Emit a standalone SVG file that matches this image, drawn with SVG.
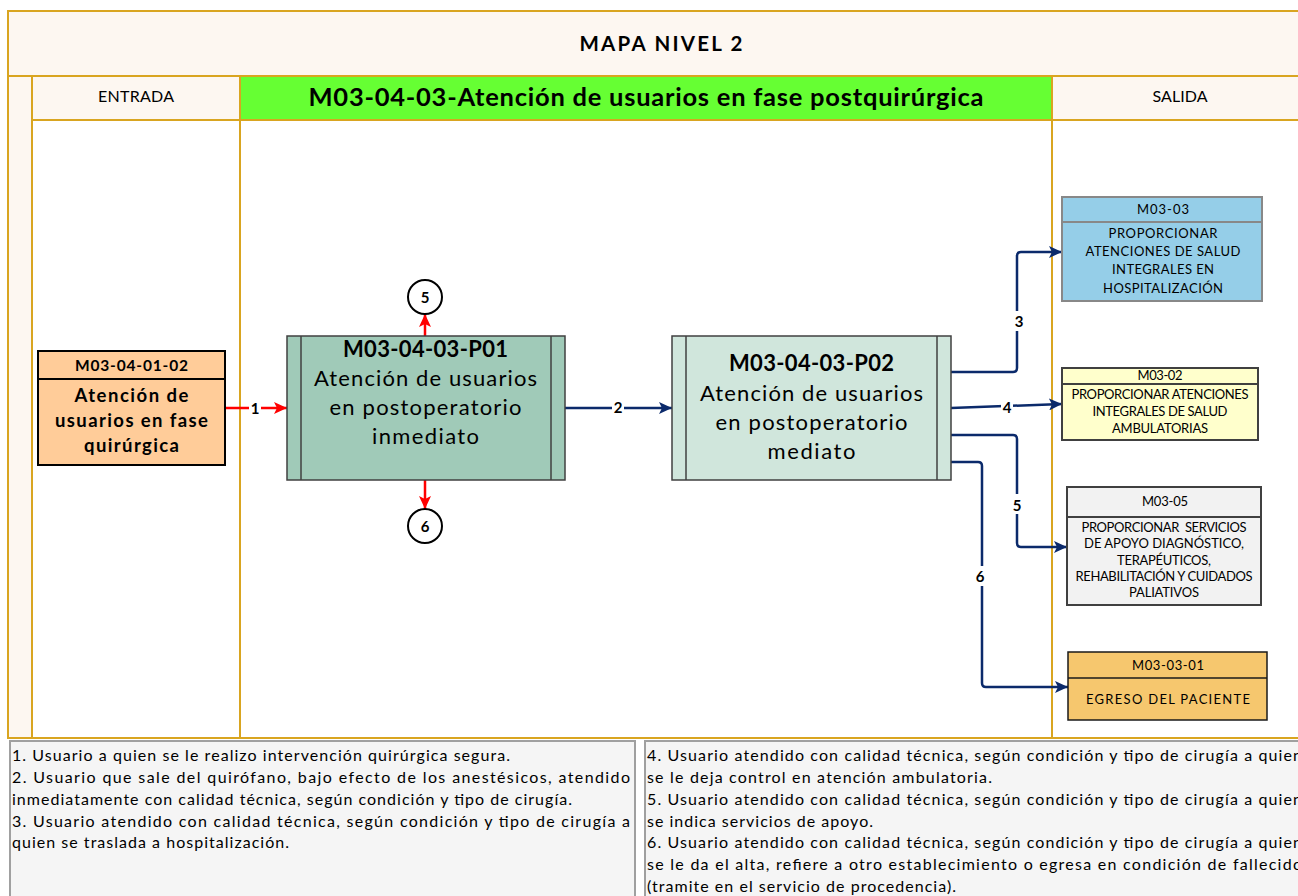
<svg xmlns="http://www.w3.org/2000/svg" width="1298" height="896" viewBox="0 0 1298 896">
<style>
text{font-family:Lato,"Liberation Sans",sans-serif;fill:#000}
.gold{stroke:#D9A520;stroke-width:2}
.cream{fill:#FDF7F1}
.b{font-weight:bold}
.c{text-anchor:middle}
.hdr{font-size:16px}
.pt{font-size:22px;font-weight:bold;text-anchor:middle}
.pb{font-size:22px;text-anchor:middle}
.sm{font-size:13px;text-anchor:middle}
.lbl{font-size:15px;font-weight:bold;text-anchor:middle}
.note{font-size:16px}
.nav{fill:none;stroke:#0B2A6B;stroke-width:2.5}
.red{fill:none;stroke:#FF0000;stroke-width:2.5}
.bg{fill:#fff}
.proc{stroke:#404040;stroke-width:1.5}
</style>
<defs>
<marker id="an" markerUnits="userSpaceOnUse" markerWidth="14" markerHeight="12" refX="13" refY="6" orient="auto"><path d="M0,0 L13,6 L0,12 L3,6 Z" fill="#0B2A6B"/></marker>
<marker id="ar" markerUnits="userSpaceOnUse" markerWidth="14" markerHeight="12" refX="13" refY="6" orient="auto"><path d="M0,0 L13,6 L0,12 L3,6 Z" fill="#FF0000"/></marker>
</defs>
<g id="frame">
<rect x="8" y="11" width="1310" height="727" fill="#fff" class="gold"/>
<rect x="8" y="11" width="1310" height="65" class="cream gold"/>
<rect x="8" y="76" width="24" height="662" class="cream gold"/>
<rect x="32" y="76" width="208" height="44" class="cream gold"/>
<rect x="240" y="76" width="812" height="44" fill="#66FF33" class="gold"/>
<rect x="1052" y="76" width="266" height="44" class="cream gold"/>
<line x1="240" y1="120" x2="240" y2="738" class="gold"/>
<line x1="1052" y1="120" x2="1052" y2="738" class="gold"/>
<text x="661" y="51" class="b c" font-size="20.5" textLength="163">MAPA NIVEL 2</text>
<text x="136" y="102" class="hdr c" textLength="76">ENTRADA</text>
<text x="1180" y="102" class="hdr c" textLength="55">SALIDA</text>
<text x="646" y="106" class="b c" font-size="25.5" textLength="675">M03-04-03-Atención de usuarios en fase postquirúrgica</text>
</g>
<g id="connectors">
<path d="M225,408 H287" class="red" marker-end="url(#ar)"/>
<path d="M425,336 V314" class="red" marker-end="url(#ar)"/>
<path d="M425,480 V509" class="red" marker-end="url(#ar)"/>
<path d="M565,408 H672" class="nav" marker-end="url(#an)"/>
<path d="M951,372 H1013 Q1017,372 1017,368 V256 Q1017,252 1021,252 H1062" class="nav" marker-end="url(#an)"/>
<path d="M951,408 L1062,404" class="nav" marker-end="url(#an)"/>
<path d="M951,435 H1013 Q1017,435 1017,439 V543 Q1017,547 1021,547 H1067" class="nav" marker-end="url(#an)"/>
<path d="M951,462 H978 Q982,462 982,466 V683 Q982,687 986,687 H1068" class="nav" marker-end="url(#an)"/>
<rect x="249" y="400" width="12" height="17" class="bg"/>
<text x="255" y="414" class="lbl">1</text>
<rect x="612" y="399" width="12" height="17" class="bg"/>
<text x="618" y="413" class="lbl">2</text>
<rect x="1012" y="311" width="14" height="20" class="bg"/>
<text x="1019" y="327" class="lbl">3</text>
<rect x="1001" y="398" width="12" height="18" class="bg"/>
<text x="1007" y="413" class="lbl">4</text>
<rect x="1010" y="494" width="14" height="20" class="bg"/>
<text x="1017" y="511" class="lbl">5</text>
<rect x="973" y="566" width="14" height="20" class="bg"/>
<text x="980" y="582" class="lbl">6</text>
</g>
<g id="node-entry">
<rect x="38" y="351" width="187" height="114" fill="#FFCC99" stroke="#000" stroke-width="2"/>
<line x1="38" y1="379" x2="225" y2="379" stroke="#000" stroke-width="2"/>
<text x="131.5" y="371" class="b c" font-size="15.5" textLength="113">M03-04-01-02</text>
<text x="131.5" y="402" class="b c" font-size="18.5" textLength="114">Atención de</text>
<text x="131.5" y="427" class="b c" font-size="18.5" textLength="153">usuarios en fase</text>
<text x="131.5" y="452" class="b c" font-size="18.5" textLength="95">quirúrgica</text>
</g>
<g id="node-p01">
<rect x="287" y="336" width="278" height="144" fill="#A0CAB8" class="proc"/>
<line x1="301" y1="336" x2="301" y2="480" class="proc"/>
<line x1="551" y1="336" x2="551" y2="480" class="proc"/>
<text x="425.5" y="357" class="pt" textLength="165">M03-04-03-P01</text>
<text x="425.5" y="386" class="pb" textLength="223">Atención de usuarios</text>
<text x="425.5" y="415" class="pb" textLength="192">en postoperatorio</text>
<text x="425.5" y="444" class="pb" textLength="107">inmediato</text>
</g>
<g id="node-c5">
<circle cx="425" cy="297" r="17" fill="#fff" stroke="#000" stroke-width="2"/>
<text x="425" y="302.5" class="lbl">5</text>
</g>
<g id="node-c6">
<circle cx="425" cy="526" r="17" fill="#fff" stroke="#000" stroke-width="2"/>
<text x="425" y="531.5" class="lbl">6</text>
</g>
<g id="node-p02">
<rect x="672" y="336" width="279" height="144" fill="#D0E6DC" class="proc"/>
<line x1="686" y1="336" x2="686" y2="480" class="proc"/>
<line x1="937" y1="336" x2="937" y2="480" class="proc"/>
<text x="811.5" y="371" class="pt" textLength="165">M03-04-03-P02</text>
<text x="811.5" y="401" class="pb" textLength="223">Atención de usuarios</text>
<text x="811.5" y="430" class="pb" textLength="192">en postoperatorio</text>
<text x="811.5" y="459" class="pb" textLength="88">mediato</text>
</g>
<g id="node-m0303">
<rect x="1062" y="197" width="200" height="104" fill="#95CEE8" stroke="#888" stroke-width="2"/>
<line x1="1062" y1="222" x2="1262" y2="222" stroke="#888" stroke-width="2"/>
<text x="1163" y="214" class="sm" textLength="52">M03-03</text>
<text x="1163" y="238" class="sm" textLength="109">PROPORCIONAR</text>
<text x="1163" y="256" class="sm" textLength="155">ATENCIONES DE SALUD</text>
<text x="1163" y="274" class="sm" textLength="102">INTEGRALES EN</text>
<text x="1163" y="293" class="sm" textLength="120">HOSPITALIZACIÓN</text>
</g>
<g id="node-m0302">
<rect x="1062" y="368" width="196" height="72" fill="#FFFFCC" stroke="#404040" stroke-width="2"/>
<line x1="1062" y1="384" x2="1258" y2="384" stroke="#404040" stroke-width="2"/>
<text x="1160" y="380" class="sm" font-size="12.5" textLength="45">M03-02</text>
<text x="1160" y="399" class="sm" font-size="12.5" textLength="177">PROPORCIONAR ATENCIONES</text>
<text x="1160" y="416" class="sm" font-size="12.5" textLength="135">INTEGRALES DE SALUD</text>
<text x="1160" y="433" class="sm" font-size="12.5" textLength="96">AMBULATORIAS</text>
</g>
<g id="node-m0305">
<rect x="1067" y="487" width="194" height="118" fill="#F2F2F2" stroke="#404040" stroke-width="2"/>
<line x1="1067" y1="517" x2="1261" y2="517" stroke="#404040" stroke-width="2"/>
<text x="1165" y="506" class="sm" font-size="12.5" textLength="46">M03-05</text>
<text x="1164" y="532" class="sm" font-size="12.5" textLength="165" xml:space="preserve">PROPORCIONAR  SERVICIOS</text>
<text x="1164" y="548" class="sm" font-size="12.5" textLength="160">DE APOYO DIAGNÓSTICO,</text>
<text x="1164" y="565" class="sm" font-size="12.5" textLength="94">TERAPÉUTICOS,</text>
<text x="1164" y="581" class="sm" font-size="12.5" textLength="177">REHABILITACIÓN Y CUIDADOS</text>
<text x="1164" y="597" class="sm" font-size="12.5" textLength="70">PALIATIVOS</text>
</g>
<g id="node-m030301">
<rect x="1068" y="652" width="199" height="68" fill="#F6C76E" stroke="#1a1a1a" stroke-width="1.5"/>
<line x1="1068" y1="678" x2="1267" y2="678" stroke="#1a1a1a" stroke-width="1.5"/>
<text x="1168" y="670" class="sm" font-size="14" textLength="72">M03-03-01</text>
<text x="1168" y="704" class="sm" font-size="17" textLength="164">EGRESO DEL PACIENTE</text>
</g>
<g id="notes-left">
<rect x="10" y="741" width="625" height="170" fill="#F5F5F5" stroke="#A0A0A0" stroke-width="2"/>
<text x="12" y="761" class="note" textLength="498">1. Usuario a quien se le realizo intervención quirúrgica segura.</text>
<text x="12" y="783" class="note" textLength="618">2. Usuario que sale del quirófano, bajo efecto de los anestésicos, atendido</text>
<text x="12" y="805" class="note" textLength="560">inmediatamente con calidad técnica, según condición y tipo de cirugía.</text>
<text x="12" y="827" class="note" textLength="618">3. Usuario atendido con calidad técnica, según condición y tipo de cirugía a</text>
<text x="12" y="848" class="note" textLength="277">quien se traslada a hospitalización.</text>
</g>
<g id="notes-right">
<rect x="645" y="741" width="670" height="170" fill="#F5F5F5" stroke="#A0A0A0" stroke-width="2"/>
<text x="647" y="761" class="note" textLength="655">4. Usuario atendido con calidad técnica, según condición y tipo de cirugía a quien</text>
<text x="647" y="783" class="note" textLength="345">se le deja control en atención ambulatoria.</text>
<text x="647" y="805" class="note" textLength="655">5. Usuario atendido con calidad técnica, según condición y tipo de cirugía a quien</text>
<text x="647" y="827" class="note" textLength="226">se indica servicios de apoyo.</text>
<text x="647" y="848" class="note" textLength="655">6. Usuario atendido con calidad técnica, según condición y tipo de cirugía a quien</text>
<text x="647" y="870" class="note" textLength="655">se le da el alta, refiere a otro establecimiento o egresa en condición de fallecido</text>
<text x="647" y="892" class="note" textLength="309">(tramite en el servicio de procedencia).</text>
</g>
</svg>
